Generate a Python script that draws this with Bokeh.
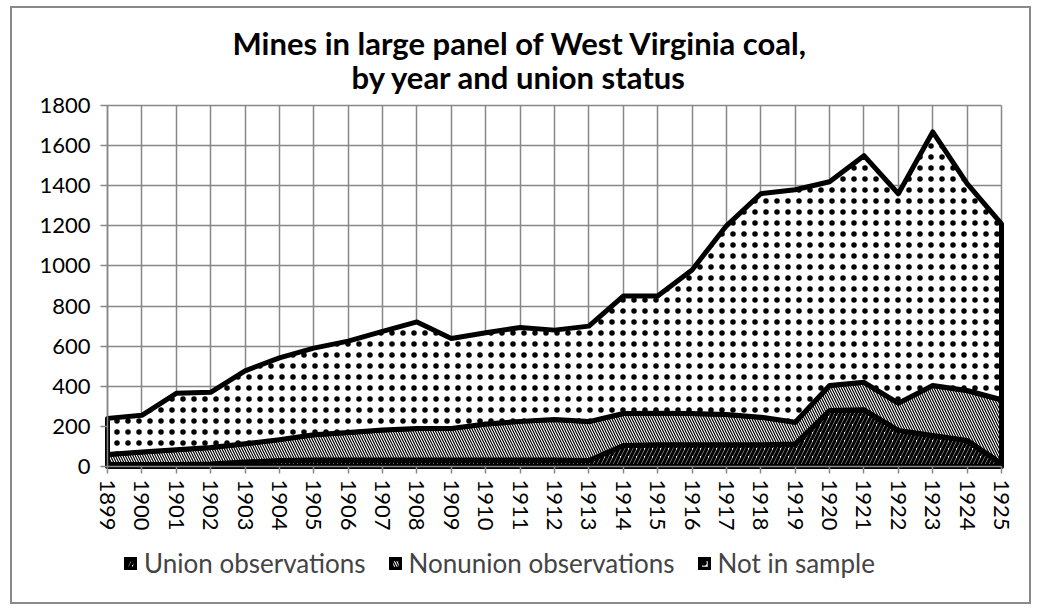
from bokeh.plotting import figure
from bokeh.models import (Range1d, FixedTicker, Legend, LegendItem, Title)
from bokeh.embed import file_html
from bokeh.resources import INLINE

# ---- data ----
years = list(range(1899, 1926))
union = [10, 10, 10, 12, 22, 30, 32, 33, 33, 33, 33, 33, 33, 33, 30,
         105, 108, 108, 108, 108, 112, 279, 283, 180, 155, 130, 15]
nonunion = [50, 62, 73, 83, 91, 104, 126, 137, 149, 157, 157, 179, 192, 201, 194,
            159, 158, 156, 151, 138, 109, 125, 137, 136, 249, 249, 318]
not_in_sample = [180, 183, 282, 275, 364, 408, 432, 455, 492, 531, 448, 455, 468, 446, 476,
                 586, 584, 716, 941, 1114, 1159, 1016, 1130, 1044, 1264, 1031, 877]
series_names = ["Union observations", "Nonunion observations", "Not in sample"]
title_lines = ["Mines in large panel of West Virginia coal,", "by year and union status"]
y_ticks = list(range(0, 1801, 200))
Y_MAX = 1800

FONT = "Lato"
GRID = "#878787"

# ---- layout (pixels) ----
PX_DATA, PX_BELOW, PX_ABOVE = 361, 132, 12   # 0..1800 height, room under zero, room over 1800
PX_SPAN = 894                                 # 1899..1925 width
PX_LEFT, PX_RIGHT = 87, 24                    # room left of 1899 (y labels) and right of 1925
per_px_x = (years[-1] - years[0]) / PX_SPAN
per_px_y = Y_MAX / PX_DATA
x_lo = years[0] - PX_LEFT * per_px_x
x_hi = years[-1] + PX_RIGHT * per_px_x
y_lo = -PX_BELOW * per_px_y
y_hi = Y_MAX + PX_ABOVE * per_px_y

p = figure(frame_width=PX_SPAN + PX_LEFT + PX_RIGHT, frame_height=PX_DATA + PX_BELOW + PX_ABOVE,
           x_range=Range1d(x_lo, x_hi), y_range=Range1d(y_lo, y_hi),
           output_backend="svg", toolbar_location=None,
           min_border_left=8, min_border_right=4, min_border_top=85, min_border_bottom=4,
           styles={"border": "2px solid #898989", "margin-left": "10px", "margin-top": "6px"})
p.outline_line_color = None
p.background_fill_color = "white"
p.border_fill_color = "white"

# stacked polygons
styles = [
    dict(hatch_pattern="/", hatch_scale=8, hatch_weight=3.2),
    dict(hatch_pattern="\\", hatch_scale=5, hatch_weight=1.2),
    dict(hatch_pattern=".", hatch_scale=11, hatch_weight=0.8),
]
renderers = []
lower = [0] * len(years)
for vals, st in zip([union, nonunion, not_in_sample], styles):
    upper = [a + b for a, b in zip(lower, vals)]
    xs = years + years[::-1]
    ys = upper + lower[::-1]
    r = p.patch(xs, ys, fill_color="white", hatch_color="black", line_color="black",
                line_width=5, line_join="round", **st)
    renderers.append(r)
    lower = upper

# axes, fixed at the data origin
p.xaxis.ticker = FixedTicker(ticks=years)
p.yaxis.ticker = FixedTicker(ticks=y_ticks)
p.xaxis.fixed_location = 0
p.yaxis.fixed_location = years[0]
p.xaxis.bounds = (years[0], years[-1])
p.yaxis.bounds = (0, Y_MAX)
for ax in (p.xaxis[0], p.yaxis[0]):
    ax.axis_line_color = GRID
    ax.axis_line_width = 1.5
    ax.major_tick_line_color = GRID
    ax.major_tick_line_width = 1.5
    ax.major_tick_out = 7
    ax.major_tick_in = 0
    ax.minor_tick_line_color = None
    ax.major_label_text_font = FONT
    ax.major_label_text_font_size = "22px"
    ax.major_label_text_color = "black"
p.xaxis.major_label_orientation = "vertical"
p.xaxis.major_label_standoff = 6
p.yaxis.major_label_standoff = 10

p.xgrid.ticker = FixedTicker(ticks=years)
p.ygrid.ticker = FixedTicker(ticks=y_ticks)
for g in (p.xgrid[0], p.ygrid[0]):
    g.grid_line_color = GRID
    g.grid_line_width = 1.5
p.xgrid.level = "underlay"
p.ygrid.level = "underlay"
if "cross_bounds" in p.xgrid[0].properties():
    p.xgrid[0].cross_bounds = (0, Y_MAX)
    p.ygrid[0].cross_bounds = (years[0], years[-1])
else:
    p.xgrid.visible = False
    p.ygrid.visible = False
    p.segment(x0=years, y0=[0] * len(years), x1=years, y1=[Y_MAX] * len(years),
              line_color=GRID, line_width=1.5, level="underlay")
    p.segment(x0=[years[0]] * len(y_ticks), y0=y_ticks, x1=[years[-1]] * len(y_ticks), y1=y_ticks,
              line_color=GRID, line_width=1.5, level="underlay")

# legend below the axis labels (inside the plot area)
legend = Legend(items=[LegendItem(label=n, renderers=[r]) for n, r in zip(series_names, renderers)],
                orientation="horizontal", location=(104, 19),
                label_text_font=FONT, label_text_font_size="26px",
                glyph_width=13, glyph_height=13, label_standoff=7, spacing=23,
                border_line_color=None, background_fill_alpha=0, margin=0, padding=4)
p.add_layout(legend, "center")

# two-line title
def make_title(text, off, standoff):
    kw = dict(text=text, align="left", offset=off, text_font=FONT, text_font_size="31px",
              text_font_style="bold", text_color="black")
    try:
        return Title(standoff=standoff, **kw)
    except Exception:
        return Title(standoff=0, **kw)

p.add_layout(make_title(title_lines[1], 331, -4), "above")
p.add_layout(make_title(title_lines[0], 212, -9), "above")

open("out.html", "w").write(file_html(p, INLINE))
